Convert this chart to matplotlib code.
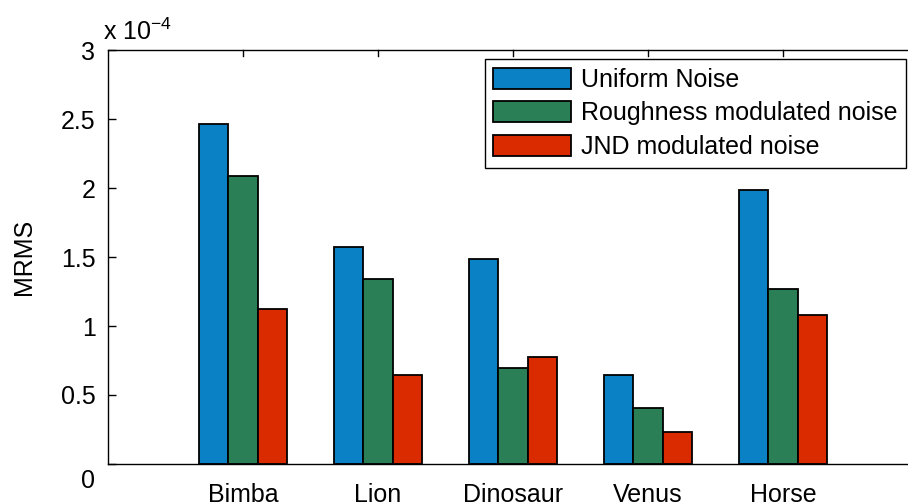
import numpy as np
import matplotlib.pyplot as plt
from matplotlib.transforms import ScaledTranslation

plt.rcParams['font.family'] = ['Liberation Sans', 'DejaVu Sans']
plt.rcParams['mathtext.fontset'] = 'custom'
plt.rcParams['mathtext.rm'] = 'Liberation Sans'
plt.rcParams['mathtext.it'] = 'Liberation Sans'

models = ['Bimba', 'Lion', 'Dinosaur', 'Venus', 'Horse']
uniform = [2.464, 1.575, 1.488, 0.647, 1.986]
roughness = [2.087, 1.341, 0.698, 0.404, 1.266]
jnd = [1.121, 0.647, 0.778, 0.232, 1.080]
series_names = ['Uniform Noise', 'Roughness modulated noise', 'JND modulated noise']
colors = ['#0b81c5', '#2a7f56', '#d92a00']

fs = 18
fig = plt.figure(figsize=(9.08, 5.04), dpi=100)
ax = fig.add_axes([108 / 908, 40 / 504, 810 / 908, 414 / 504])

x = np.arange(1, len(models) + 1)
w = 0.215
for i, (vals, name, c) in enumerate(zip([uniform, roughness, jnd], series_names, colors)):
    ax.bar(x + (i - 1) * w, vals, w, color=c, edgecolor='black', linewidth=1.3, label=name)

ax.set_xlim(0, 6)
ax.set_ylim(0, 3)
ax.set_xticks(x)
ax.set_xticklabels(models, fontsize=fs)
ax.set_yticks([0, 0.5, 1, 1.5, 2, 2.5, 3])
ax.set_yticklabels(['0', '0.5', '1', '1.5', '2', '2.5', '3'], fontsize=fs)
ax.tick_params(axis='y', direction='in', length=6, width=1, pad=9, right=True)
ax.tick_params(axis='x', direction='in', length=0, pad=14, top=False)
for xi in x:
    ax.plot([xi, xi], [3, 3 - 6 / 138], color='black', linewidth=1, clip_on=False)
for s in ax.spines.values():
    s.set_linewidth(1)

# MATLAB nudges the lowest y label down
lbl = ax.yaxis.get_major_ticks()[0].label1
lbl.set_transform(lbl.get_transform() + ScaledTranslation(0, -0.14, fig.dpi_scale_trans))

ax.set_ylabel('MRMS', fontsize=fs, labelpad=18)
ax.text(-0.006, 1.012, r'x 10$^{-4}$', transform=ax.transAxes, fontsize=fs,
        ha='left', va='bottom')

leg = ax.legend(loc='upper right', bbox_to_anchor=(906 / 908, 445 / 504),
                bbox_transform=fig.transFigure, fontsize=fs, fancybox=False,
                framealpha=1, edgecolor='black', handlelength=3.1,
                handleheight=0.9, handletextpad=0.4, labelspacing=0.38,
                borderpad=0.35, borderaxespad=0)
leg.get_frame().set_linewidth(1)

fig.savefig('out.png', dpi=100)
